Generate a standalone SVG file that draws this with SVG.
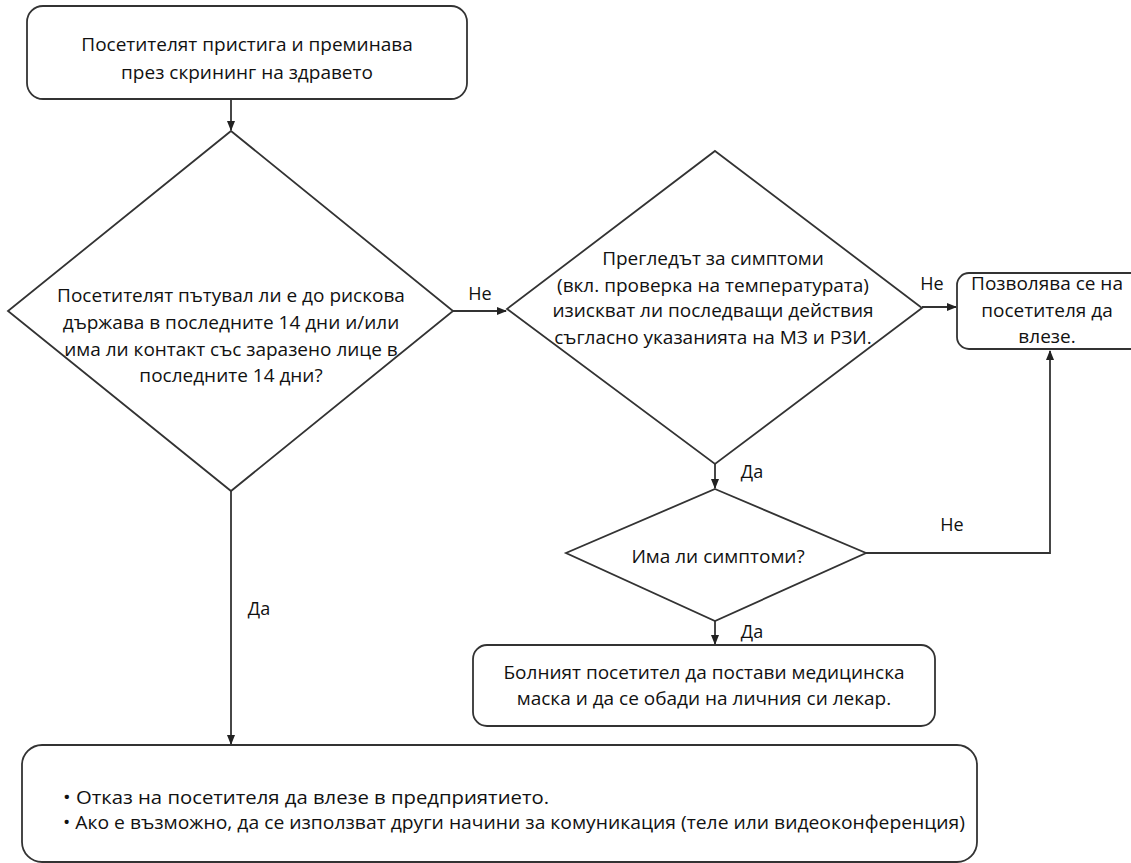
<svg xmlns="http://www.w3.org/2000/svg" width="1131" height="863" viewBox="0 0 1131 863">
<style>
.shape{fill:#fff;stroke:#333;stroke-width:1.8}
.conn{fill:none;stroke:#333;stroke-width:1.8}
text{font-family:"Open Sans","Noto Sans",sans-serif;fill:#111;font-size:19px;text-anchor:middle}
.lbl{font-size:18px}
.left{text-anchor:start;font-size:18.5px}
</style>
<defs>
<marker id="arr" markerWidth="10" markerHeight="8" refX="9" refY="4" orient="auto" markerUnits="userSpaceOnUse">
<path d="M0,0 L10,4 L0,8 Z" fill="#222"/>
</marker>
</defs>
<rect width="1131" height="863" fill="#fff"/>
<g id="connectors">
<path class="conn" d="M231,99 L231,130" marker-end="url(#arr)"/>
<path class="conn" d="M453,311 L506,311" marker-end="url(#arr)"/>
<path class="conn" d="M922,307 L956,307" marker-end="url(#arr)"/>
<path class="conn" d="M715,464 L715,488" marker-end="url(#arr)"/>
<path class="conn" d="M866,553 L1050,553 L1050,351" marker-end="url(#arr)"/>
<path class="conn" d="M715,621 L715,644" marker-end="url(#arr)"/>
<path class="conn" d="M231,491 L231,744" marker-end="url(#arr)"/>
<text class="lbl" x="480" y="300">Не</text>
<text class="lbl" x="932" y="290">Не</text>
<text class="lbl" x="752" y="478">Да</text>
<text class="lbl" x="952" y="531">Не</text>
<text class="lbl" x="752" y="638">Да</text>
<text class="lbl" x="259" y="615">Да</text>
</g>
<g id="start">
<rect class="shape" x="27" y="6" width="440" height="93" rx="16"/>
<text x="247" y="51">Посетителят пристига и преминава</text>
<text x="247" y="79">през скрининг на здравето</text>
</g>
<g id="decision1">
<polygon class="shape" points="231,131 453,311 231,491 8,311"/>
<text x="231" y="302">Посетителят пътувал ли е до рискова</text>
<text x="231" y="329">държава в последните 14 дни и/или</text>
<text x="231" y="356">има ли контакт със заразено  лице в</text>
<text x="231" y="382">последните 14 дни?</text>
</g>
<g id="decision2">
<polygon class="shape" points="715,151 922,308 715,464 507,309"/>
<text x="713" y="265">Прегледът за симптоми</text>
<text x="713" y="292">(вкл. проверка на температурата)</text>
<text x="713" y="317">изискват ли последващи действия</text>
<text x="713" y="344">съгласно указанията на МЗ и РЗИ.</text>
</g>
<g id="allow">
<rect class="shape" x="957" y="273" width="190" height="76" rx="12"/>
<text x="1047" y="290">Позволява се на</text>
<text x="1047" y="317">посетителя да</text>
<text x="1047" y="343">влезе.</text>
</g>
<g id="decision3">
<polygon class="shape" points="715,489 866,553 715,621 566,553"/>
<text x="718" y="563">Има ли симптоми?</text>
</g>
<g id="sick">
<rect class="shape" x="473" y="645" width="462" height="81" rx="14"/>
<text x="704" y="679">Болният посетител да постави медицинска</text>
<text x="704" y="705">маска и да се обади на личния си лекар.</text>
</g>
<g id="refuse">
<rect class="shape" x="22" y="745" width="955" height="117" rx="20"/>
<text class="left" x="63" y="804" textLength="486" lengthAdjust="spacingAndGlyphs">• Отказ на посетителя да влезе в предприятието.</text>
<text class="left" x="63" y="829" textLength="902" lengthAdjust="spacingAndGlyphs">• Ако е възможно, да се използват други начини за комуникация (теле или видеоконференция)</text>
</g>
</svg>
